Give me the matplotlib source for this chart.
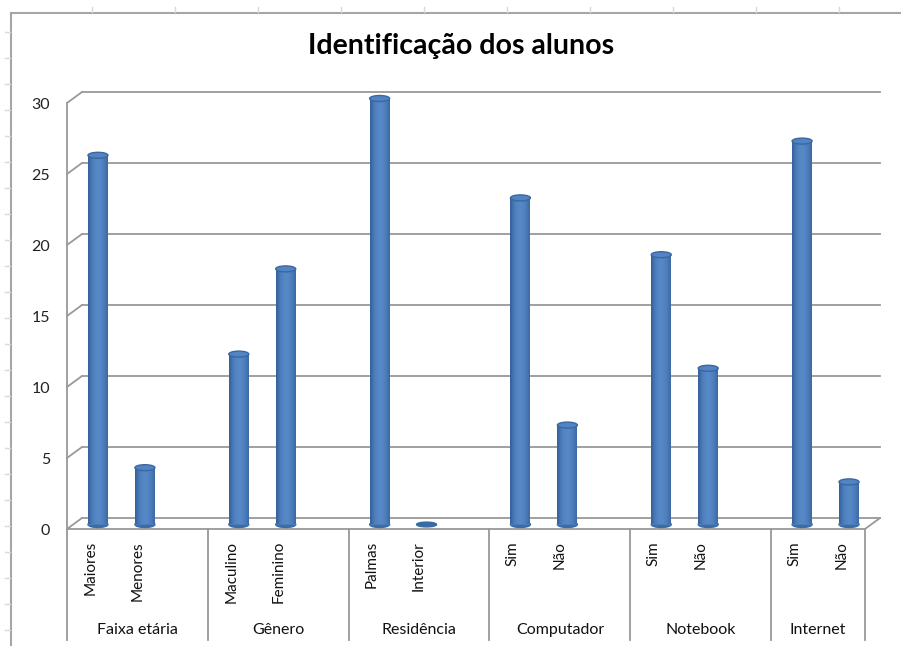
import matplotlib.pyplot as plt
import matplotlib.transforms as mtransforms
from matplotlib.patches import Ellipse, ConnectionPatch
from matplotlib.lines import Line2D
import numpy as np

# data
groups = ['Faixa etária', 'Gênero', 'Residência', 'Computador', 'Notebook', 'Internet']
sub_labels = [['Maiores', 'Menores'], ['Maculino', 'Feminino'], ['Palmas', 'Interior'],
              ['Sim', 'Não'], ['Sim', 'Não'], ['Sim', 'Não']]
values = [[26, 4], [12, 18], [30, 0], [23, 7], [19, 11], [27, 3]]
y_ticks = [0, 5, 10, 15, 20, 25, 30]

W, H, DPI = 901, 646, 100
plt.rcParams['font.family'] = ['Lato', 'DejaVu Sans']

fig = plt.figure(figsize=(W / DPI, H / DPI), dpi=DPI)
fig.patch.set_facecolor('white')

# front plane of the plot area in pixels
x0, x1, yb, yt = 67, 865, 529, 103
ax = fig.add_axes([x0 / W, (H - yb) / H, (x1 - x0) / W, (yb - yt) / H])
ax.set_xlim(-0.5, 16.5)
ax.set_ylim(0, 30)
ax.axis('off')

px = 30 / (yb - yt)          # data units per pixel in y
slot_px = (x1 - x0) / 17     # pixels per category slot

def shifted(dx, dy):
    return mtransforms.offset_copy(ax.transData, fig=fig, x=dx / DPI, y=dy / DPI, units='inches')

back = shifted(15, 11)
mid = shifted(7.5, 4.5)
grid_c = '#999999'

# back wall gridlines + diagonals from the front axis
for v in y_ticks:
    ax.plot([-0.5, 16.5], [v, v], color=grid_c, lw=1.3, transform=back, clip_on=False)
    ax.add_artist(ConnectionPatch((-0.5, v), (-0.5, v), coordsA=ax.transData, coordsB=back,
                                  color=grid_c, lw=1.3, clip_on=False))
    ax.text(-0.5, v, str(v), transform=shifted(-17, -2), ha='right', va='center',
            fontsize=11.5, color='#222222')

# floor front edge and right side
ax.plot([-0.5, 16.5], [0, 0], color=grid_c, lw=1.3, clip_on=False)
ax.add_artist(ConnectionPatch((16.5, 0), (16.5, 0), coordsA=ax.transData, coordsB=back,
                              color=grid_c, lw=1.3, clip_on=False))

# category box below the floor
box_bottom = -111 * px
ax.plot([-0.5, -0.5], [30, box_bottom], color=grid_c, lw=1.3, clip_on=False)

# cylinder shading
shade = np.array([0.05, 0.45, 0.7, 0.82, 0.9, 0.92, 0.85, 0.72, 0.55, 0.25])
dark, light = np.array([0x33, 0x60, 0x9a]) / 255, np.array([0x5a, 0x8c, 0xcb]) / 255
grad = (dark[None, :] + (light - dark)[None, :] * shade[:, None])[None, :, :]

bw = 20 / slot_px
eh = 6 * px
slot = 0
for gi, (g, subs, vals) in enumerate(zip(groups, sub_labels, values)):
    start = slot
    for lab, v in zip(subs, vals):
        ax.text(slot, 0, lab, rotation=90, ha='center', va='top', fontsize=11,
                color='#111111', transform=shifted(0, -12))
        if v > 0:
            ax.add_patch(Ellipse((slot, 0), bw, eh, transform=mid, color='#3d6ba6',
                                 zorder=3, clip_on=False))
            bar = ax.bar(slot, v, width=bw, transform=mid, color='#4a7cb9', zorder=3,
                         clip_on=False)[0]
            im = ax.imshow(grad, extent=[slot - bw / 2, slot + bw / 2, 0, v], aspect='auto',
                           transform=mid, zorder=3.5, interpolation='bicubic')
            im.set_clip_box(fig.bbox)
            im.set_clip_path(bar)
            ax.add_patch(Ellipse((slot, v), bw, eh, transform=mid, facecolor='#5284c3',
                                 edgecolor='#3a67a0', lw=1, zorder=4, clip_on=False))
        else:
            ax.add_patch(Ellipse((slot, v), bw, eh * 0.8, transform=mid, color='#3a6aa5', zorder=4))
        slot += 1
    end = slot + 0.5 if gi < len(groups) - 1 else slot - 0.5
    ax.plot([end, end], [0, box_bottom], color=grid_c, lw=1.3, clip_on=False)
    ax.text((start - 0.5 + end) / 2, 0, g, ha='center', va='center', fontsize=11.5,
            color='#111111', transform=shifted(0, -101))
    slot += 1

ax.set_xlim(-0.5, 16.5)
ax.set_ylim(0, 30)

fig.text(461 / W, 1 - 46 / H, 'Identificação dos alunos', ha='center', va='center',
         fontsize=20.5, fontweight='bold', color='black')

# outer chart frame and spreadsheet tick remnants
fr = '#a6a6a6'
fig.add_artist(Line2D([11 / W, 11 / W], [0, 1 - 13 / H], color=fr, lw=1.5))
fig.add_artist(Line2D([11 / W, 1], [1 - 13 / H, 1 - 13 / H], color=fr, lw=1.5))
for xt in np.arange(92, W, 83):
    fig.add_artist(Line2D([xt / W, xt / W], [1 - 7 / H, 1 - 12 / H], color='#d9d9d9', lw=1))
for yt_ in np.arange(32, H, 26):
    fig.add_artist(Line2D([5 / W, 10 / W], [1 - yt_ / H, 1 - yt_ / H], color='#d9d9d9', lw=1))

fig.savefig('out.png', dpi=DPI)
